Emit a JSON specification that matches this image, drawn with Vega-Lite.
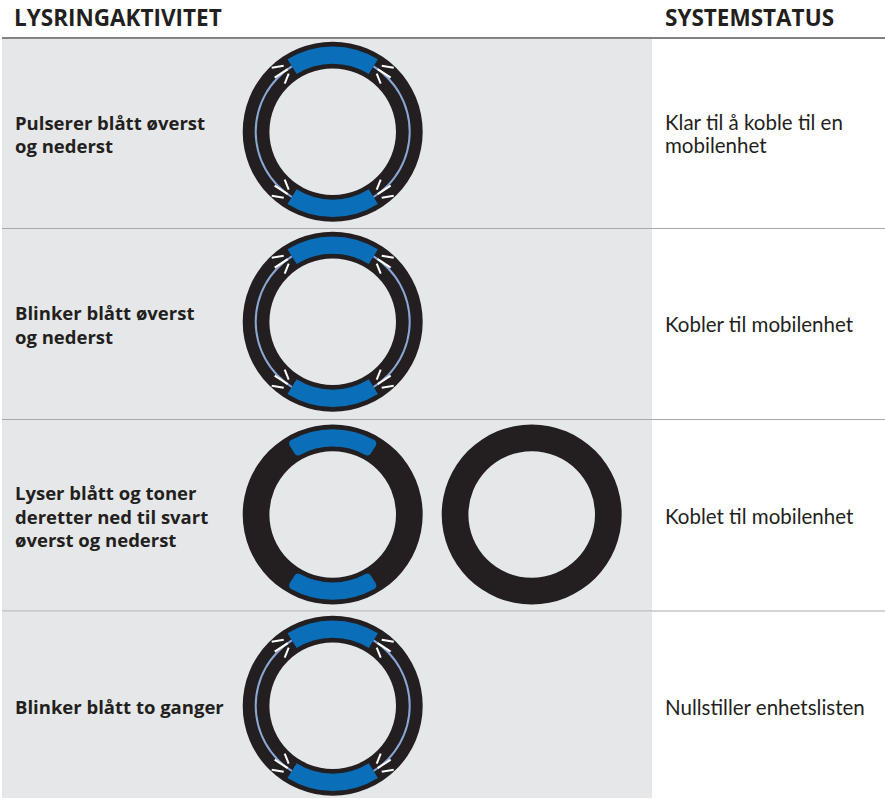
{
"$schema":"https://vega.github.io/schema/vega-lite/v6.json",
"width":885,"height":799,"padding":0,
"autosize":{"type":"fit","contains":"padding"},
"background":"white",
"config":{"view":{"stroke":null}},
"datasets":{
"bands":[
{"row":"Pulserer","x0":2,"x1":652,"y0":39,"y1":228},
{"row":"Blinker","x0":2,"x1":652,"y0":229,"y1":419},
{"row":"Lyser","x0":2,"x1":652,"y0":420,"y1":611},
{"row":"Blinker to","x0":2,"x1":652,"y0":612,"y1":798}
],
"lines":[
{"x0":2,"x1":885,"y":38,"kind":"head"},
{"x0":2,"x1":885,"y":228.5,"kind":"row"},
{"x0":2,"x1":885,"y":419.5,"kind":"row"},
{"x0":2,"x1":885,"y":611,"kind":"row"}
],
"arcs":[
{"ring":1,"cx":332.7,"cy":131.7,"part":"ring","t0":0,"t1":360,"r0":63.3,"r1":90},
{"ring":1,"cx":332.7,"cy":131.7,"part":"glow","t0":32,"t1":148,"r0":76,"r1":78},
{"ring":1,"cx":332.7,"cy":131.7,"part":"glow","t0":212,"t1":328,"r0":76,"r1":78},
{"ring":1,"cx":332.7,"cy":131.7,"part":"blue","t0":328,"t1":392,"r0":68,"r1":85.3},
{"ring":1,"cx":332.7,"cy":131.7,"part":"blue","t0":148,"t1":212,"r0":68,"r1":85.3},
{"ring":2,"cx":332.7,"cy":321.7,"part":"ring","t0":0,"t1":360,"r0":63.3,"r1":90},
{"ring":2,"cx":332.7,"cy":321.7,"part":"glow","t0":32,"t1":148,"r0":76,"r1":78},
{"ring":2,"cx":332.7,"cy":321.7,"part":"glow","t0":212,"t1":328,"r0":76,"r1":78},
{"ring":2,"cx":332.7,"cy":321.7,"part":"blue","t0":328,"t1":392,"r0":68,"r1":85.3},
{"ring":2,"cx":332.7,"cy":321.7,"part":"blue","t0":148,"t1":212,"r0":68,"r1":85.3},
{"ring":3,"cx":332.7,"cy":514.5,"part":"ring","t0":0,"t1":360,"r0":63.3,"r1":90},
{"ring":4,"cx":531.7,"cy":514.5,"part":"ring","t0":0,"t1":360,"r0":63.3,"r1":90},
{"ring":5,"cx":332.7,"cy":705.7,"part":"ring","t0":0,"t1":360,"r0":63.3,"r1":90},
{"ring":5,"cx":332.7,"cy":705.7,"part":"glow","t0":32,"t1":148,"r0":76,"r1":78},
{"ring":5,"cx":332.7,"cy":705.7,"part":"glow","t0":212,"t1":328,"r0":76,"r1":78},
{"ring":5,"cx":332.7,"cy":705.7,"part":"blue","t0":328,"t1":392,"r0":68,"r1":85.3},
{"ring":5,"cx":332.7,"cy":705.7,"part":"blue","t0":148,"t1":212,"r0":68,"r1":85.3}
],
"softarcs":[
{"ring":3,"cx":332.7,"cy":514.5,"t0":328,"t1":392,"r0":68,"r1":85.3},
{"ring":3,"cx":332.7,"cy":514.5,"t0":148,"t1":212,"r0":68,"r1":85.3}
],
"ticks":[
{"x":271.7,"y":67.7,"x2":283.7,"y2":65.7},{"x":274.7,"y":77.7,"x2":287.7,"y2":69.2},{"x":284.7,"y":83.7,"x2":288.7,"y2":73.7},
{"x":393.7,"y":67.7,"x2":381.7,"y2":65.7},{"x":390.7,"y":77.7,"x2":377.7,"y2":69.2},{"x":380.7,"y":83.7,"x2":376.7,"y2":73.7},
{"x":271.7,"y":195.7,"x2":283.7,"y2":197.7},{"x":274.7,"y":185.7,"x2":287.7,"y2":194.2},{"x":284.7,"y":179.7,"x2":288.7,"y2":189.7},
{"x":393.7,"y":195.7,"x2":381.7,"y2":197.7},{"x":390.7,"y":185.7,"x2":377.7,"y2":194.2},{"x":380.7,"y":179.7,"x2":376.7,"y2":189.7},
{"x":271.7,"y":257.7,"x2":283.7,"y2":255.7},{"x":274.7,"y":267.7,"x2":287.7,"y2":259.2},{"x":284.7,"y":273.7,"x2":288.7,"y2":263.7},
{"x":393.7,"y":257.7,"x2":381.7,"y2":255.7},{"x":390.7,"y":267.7,"x2":377.7,"y2":259.2},{"x":380.7,"y":273.7,"x2":376.7,"y2":263.7},
{"x":271.7,"y":385.7,"x2":283.7,"y2":387.7},{"x":274.7,"y":375.7,"x2":287.7,"y2":384.2},{"x":284.7,"y":369.7,"x2":288.7,"y2":379.7},
{"x":393.7,"y":385.7,"x2":381.7,"y2":387.7},{"x":390.7,"y":375.7,"x2":377.7,"y2":384.2},{"x":380.7,"y":369.7,"x2":376.7,"y2":379.7},
{"x":271.7,"y":641.7,"x2":283.7,"y2":639.7},{"x":274.7,"y":651.7,"x2":287.7,"y2":643.2},{"x":284.7,"y":657.7,"x2":288.7,"y2":647.7},
{"x":393.7,"y":641.7,"x2":381.7,"y2":639.7},{"x":390.7,"y":651.7,"x2":377.7,"y2":643.2},{"x":380.7,"y":657.7,"x2":376.7,"y2":647.7},
{"x":271.7,"y":769.7,"x2":283.7,"y2":771.7},{"x":274.7,"y":759.7,"x2":287.7,"y2":768.2},{"x":284.7,"y":753.7,"x2":288.7,"y2":763.7},
{"x":393.7,"y":769.7,"x2":381.7,"y2":771.7},{"x":390.7,"y":759.7,"x2":377.7,"y2":768.2},{"x":380.7,"y":753.7,"x2":376.7,"y2":763.7}
],
"heads":[
{"x":14,"y":25.5,"t":"LYSRINGAKTIVITET"},
{"x":665,"y":25.5,"t":"SYSTEMSTATUS"}
],
"activity":[
{"x":15,"y":130,"t":"Pulserer blått øverst"},
{"x":15,"y":153,"t":"og nederst"},
{"x":15,"y":320,"t":"Blinker blått øverst"},
{"x":15,"y":344,"t":"og nederst"},
{"x":15,"y":500,"t":"Lyser blått og toner"},
{"x":15,"y":523.5,"t":"deretter ned til svart"},
{"x":15,"y":547,"t":"øverst og nederst"},
{"x":15,"y":714,"t":"Blinker blått to ganger"}
],
"status":[
{"x":665,"y":130,"t":"Klar til å koble til en"},
{"x":665,"y":153,"t":"mobilenhet"},
{"x":665,"y":332,"t":"Kobler til mobilenhet"},
{"x":665,"y":524,"t":"Koblet til mobilenhet"},
{"x":665,"y":715,"t":"Nullstiller enhetslisten"}
]
},
"layer":[
{"data":{"name":"bands"},"mark":{"type":"rect","color":"#e6e7e8"},
 "encoding":{"x":{"field":"x0","type":"quantitative","axis":null,"scale":{"domain":[0,885],"range":[0,885]}},"x2":{"field":"x1"},
 "y":{"field":"y0","type":"quantitative","axis":null,"scale":{"domain":[0,799],"range":[0,799]}},"y2":{"field":"y1"}}},
{"data":{"name":"lines"},"mark":{"type":"rule"},
 "encoding":{"x":{"field":"x0","type":"quantitative","axis":null,"scale":{"domain":[0,885],"range":[0,885]}},"x2":{"field":"x1"},
 "y":{"field":"y","type":"quantitative","axis":null,"scale":{"domain":[0,799],"range":[0,799]}},
 "color":{"field":"kind","type":"nominal","legend":null,"scale":{"domain":["head","row"],"range":["#58595b","#a7a9ac"]}},
 "strokeWidth":{"field":"kind","type":"nominal","legend":null,"scale":{"domain":["head","row"],"range":[1.5,1]}}}},
{"data":{"name":"arcs"},"mark":{"type":"arc"},
 "encoding":{"x":{"field":"cx","type":"quantitative","axis":null,"scale":{"domain":[0,885],"range":[0,885]}},
 "y":{"field":"cy","type":"quantitative","axis":null,"scale":{"domain":[0,799],"range":[0,799]}},
 "theta":{"field":"t0","type":"quantitative","stack":null,"scale":{"domain":[0,360],"range":[0,6.283185]}},"theta2":{"field":"t1"},
 "radius":{"field":"r1","type":"quantitative","scale":{"domain":[0,90],"range":[0,90]}},"radius2":{"field":"r0"},
 "color":{"field":"part","type":"nominal","legend":null,"sort":null,"scale":{"domain":["ring","glow","blue"],"range":["#231f20","#8aa7d6","#0a6eb9"]}},
 "order":{"field":"ring"}}},
{"data":{"name":"softarcs"},"mark":{"type":"arc","color":"#0a6eb9","cornerRadius":4},
 "encoding":{"x":{"field":"cx","type":"quantitative","axis":null,"scale":{"domain":[0,885],"range":[0,885]}},
 "y":{"field":"cy","type":"quantitative","axis":null,"scale":{"domain":[0,799],"range":[0,799]}},
 "theta":{"field":"t0","type":"quantitative","stack":null,"scale":{"domain":[0,360],"range":[0,6.283185]}},"theta2":{"field":"t1"},
 "radius":{"field":"r1","type":"quantitative","scale":{"domain":[0,90],"range":[0,90]}},"radius2":{"field":"r0"}}},
{"data":{"name":"ticks"},"mark":{"type":"rule","color":"#ffffff","strokeWidth":2},
 "encoding":{"x":{"field":"x","type":"quantitative","axis":null,"scale":{"domain":[0,885],"range":[0,885]}},"x2":{"field":"x2"},
 "y":{"field":"y","type":"quantitative","axis":null,"scale":{"domain":[0,799],"range":[0,799]}},"y2":{"field":"y2"}}},
{"data":{"name":"heads"},"mark":{"type":"text","align":"left","baseline":"alphabetic","font":"Open Sans","fontWeight":"bold","fontSize":22.5,"color":"#231f20"},
 "encoding":{"x":{"field":"x","type":"quantitative","axis":null,"scale":{"domain":[0,885],"range":[0,885]}},
 "y":{"field":"y","type":"quantitative","axis":null,"scale":{"domain":[0,799],"range":[0,799]}},"text":{"field":"t"}}},
{"data":{"name":"activity"},"mark":{"type":"text","align":"left","baseline":"alphabetic","font":"Open Sans","fontWeight":"bold","fontSize":18.5,"color":"#231f20"},
 "encoding":{"x":{"field":"x","type":"quantitative","axis":null,"scale":{"domain":[0,885],"range":[0,885]}},
 "y":{"field":"y","type":"quantitative","axis":null,"scale":{"domain":[0,799],"range":[0,799]}},"text":{"field":"t"}}},
{"data":{"name":"status"},"mark":{"type":"text","align":"left","baseline":"alphabetic","font":"Lato","fontSize":20.5,"color":"#231f20"},
 "encoding":{"x":{"field":"x","type":"quantitative","axis":null,"scale":{"domain":[0,885],"range":[0,885]}},
 "y":{"field":"y","type":"quantitative","axis":null,"scale":{"domain":[0,799],"range":[0,799]}},"text":{"field":"t"}}}
],
"resolve":{"scale":{"color":"independent","strokeWidth":"independent"}}
}
